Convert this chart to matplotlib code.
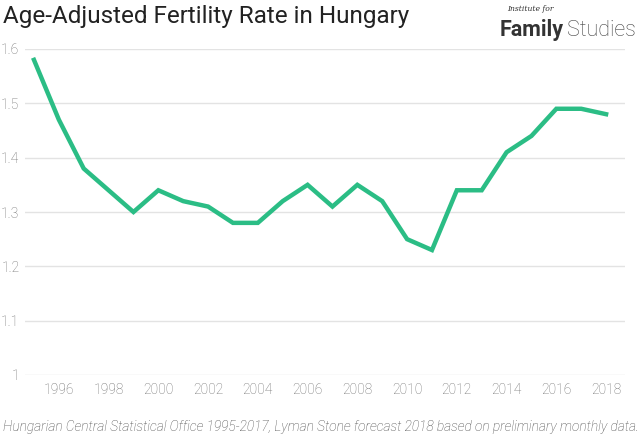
import matplotlib.pyplot as plt

# Fertility rate data
years = [1995, 1996, 1997, 1998, 1999, 2000, 2001, 2002, 2003, 2004, 2005, 2006,
         2007, 2008, 2009, 2010, 2011, 2012, 2013, 2014, 2015, 2016, 2017, 2018]
rates = [1.58, 1.47, 1.38, 1.34, 1.30, 1.34, 1.32, 1.31, 1.28, 1.28, 1.32, 1.35,
         1.31, 1.35, 1.32, 1.25, 1.23, 1.34, 1.34, 1.41, 1.44, 1.49, 1.49, 1.48]
x_ticks = list(range(1996, 2019, 2))
y_ticks = [1, 1.1, 1.2, 1.3, 1.4, 1.5, 1.6]

plt.rcParams['font.family'] = ['Roboto', 'DejaVu Sans']

fig = plt.figure(figsize=(6.4, 4.43), dpi=100)
W, H = 640, 443
ax = fig.add_axes([25 / W, 1 - 375 / H, 600 / W, (375 - 49) / H])

ax.plot(years, rates, color='#2bbd85', linewidth=3.2, solid_joinstyle='miter',
        clip_on=False, zorder=3)

ax.set_xlim(1994.64, 2018.76)
ax.set_ylim(1, 1.6)
ax.set_xticks(x_ticks)
ax.set_yticks(y_ticks)
ax.set_yticklabels(['1', '1.1', '1.2', '1.3', '1.4', '1.5', '1.6'])
ax.grid(axis='y', color='#e3e3e3', linewidth=1)
ax.set_axisbelow(True)
for s in ax.spines.values():
    s.set_visible(False)
ax.tick_params(length=0, labelsize=10, labelcolor='#707070')
ax.tick_params(axis='y', pad=4)
ax.tick_params(axis='x', pad=6)
for lbl in ax.get_xticklabels() + ax.get_yticklabels():
    lbl.set_fontweight('light')

fig.text(3 / W, 1 - 17 / H, 'Age-Adjusted Fertility Rate in Hungary',
         fontsize=17.5, color='#222222', va='center', ha='left')

# logo
fig.text(507 / W, 1 - 9 / H, 'Institute for', fontsize=5.5, style='italic',
         family='DejaVu Serif', color='#333333', va='center', ha='left')
fig.text(500 / W, 1 - 30 / H, 'Family', fontsize=15.5, fontweight='bold',
         color='#333333', va='center', ha='left')
fig.text(636 / W, 1 - 30 / H, 'Studies', fontsize=15.5, fontweight='light',
         color='#444444', va='center', ha='right')

fig.text(3 / W, 1 - 427 / H,
         'Hungarian Central Statistical Office 1995-2017, Lyman Stone forecast 2018 based on preliminary monthly data.',
         fontsize=9.9, style='italic', fontweight='light', color='#4a4a4a',
         va='center', ha='left')

plt.savefig('out.png', dpi=100)
